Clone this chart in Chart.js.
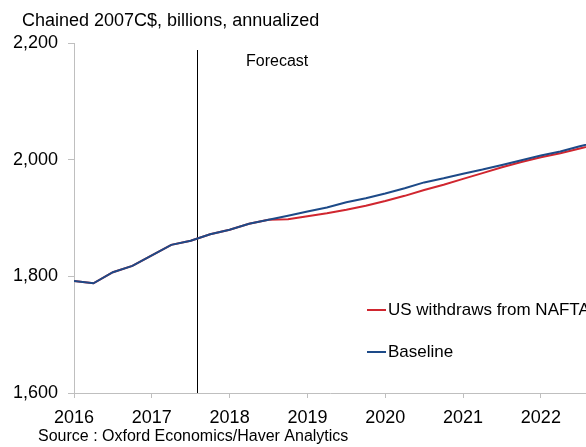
<!DOCTYPE html>
<html>
<head>
<meta charset="utf-8">
<script src="https://cdn.jsdelivr.net/npm/chart.js@4.4.1/dist/chart.umd.min.js"></script>
<style>
  body { margin: 0; background: #fff; }
  #wrap { width: 586px; height: 447px; }
</style>
</head>
<body>
<div id="wrap"><canvas id="mycanvas"></canvas></div>
<script>
// quarterly data, chained 2007C$ billions
var quarters = ['2016Q1','2016Q2','2016Q3','2016Q4','2017Q1','2017Q2','2017Q3','2017Q4',
                '2018Q1','2018Q2','2018Q3','2018Q4','2019Q1','2019Q2','2019Q3','2019Q4',
                '2020Q1','2020Q2','2020Q3','2020Q4','2021Q1','2021Q2','2021Q3','2021Q4',
                '2022Q1','2022Q2','2022Q3','2022Q4'];
var baseline = [1792, 1788, 1807, 1818, 1836, 1854, 1861, 1872,
                1880, 1890, 1897, 1904, 1911, 1918, 1927, 1934,
                1942, 1951, 1961, 1968, 1976, 1983, 1991, 1999,
                2007, 2014, 2023, 2031];
var nafta    = [1792, 1788, 1807, 1818, 1836, 1854, 1861, 1872,
                1880, 1890, 1897, 1898, 1903, 1908, 1914, 1921,
                1929, 1938, 1948, 1957, 1967, 1977, 1987, 1996,
                2004, 2011, 2019, 2027];
var xTicks = [2016, 2017, 2018, 2019, 2020, 2021, 2022];
var yTicks = [1600, 1800, 2000, 2200];
var forecastAt = 2017.575;

var fontFamily = '"Liberation Sans", Arial, sans-serif';
Chart.defaults.font.family = fontFamily;
Chart.defaults.font.size = 18;
Chart.defaults.color = '#000';

function toYear(q) {
  return parseInt(q.substr(0, 4)) + (parseInt(q.substr(5)) - 1) / 4;
}
function points(vals) {
  var out = [];
  for (var i in quarters) out.push({x: toYear(quarters[i]), y: vals[i]});
  return out;
}

var extras = {
  id: 'extras',
  beforeDatasetsDraw: function(chart) {
    var ctx = chart.ctx, xs = chart.scales.x, ys = chart.scales.y;
    var fx = Math.round(xs.getPixelForValue(forecastAt)) + 0.5;
    ctx.save();
    ctx.strokeStyle = '#000';
    ctx.lineWidth = 1;
    ctx.beginPath();
    ctx.moveTo(fx, ys.getPixelForValue(2188));
    ctx.lineTo(fx, ys.getPixelForValue(1600));
    ctx.stroke();
    ctx.restore();
  },
  afterDraw: function(chart) {
    var ctx = chart.ctx;
    ctx.save();
    ctx.fillStyle = '#000';
    ctx.textBaseline = 'alphabetic';
    ctx.font = '18px ' + fontFamily;
    ctx.fillText('Chained 2007C$, billions, annualized', 22, 26);
    ctx.textBaseline = 'middle';
    ctx.font = '16px ' + fontFamily;
    ctx.fillText('Forecast', 246, 62);
    ctx.fillText('Source : Oxford Economics/Haver Analytics', 38, 437);

    // legend
    var ds = chart.data.datasets;
    var rows = [{d: ds[0], y: 310}, {d: ds[1], y: 352}];
    ctx.font = '17px ' + fontFamily;
    rows.forEach(function(r) {
      ctx.strokeStyle = r.d.borderColor;
      ctx.lineWidth = 2;
      ctx.beginPath();
      ctx.moveTo(367, r.y);
      ctx.lineTo(386, r.y);
      ctx.stroke();
      ctx.fillText(r.d.label, 388, r.y);
    });
    ctx.restore();
  }
};

var ctx = document.getElementById('mycanvas');
var lineChart = new Chart(ctx, {
  type: 'line',
  data: {
    datasets: [
      {
        label: 'US withdraws from NAFTA',
        data: points(nafta),
        borderColor: '#d0262f',
        borderWidth: 2,
        pointRadius: 0,
        tension: 0,
        order: 1
      },
      {
        label: 'Baseline',
        data: points(baseline),
        borderColor: '#1d4a88',
        borderWidth: 2,
        pointRadius: 0,
        tension: 0,
        order: 0
      }
    ]
  },
  options: {
    responsive: true,
    maintainAspectRatio: false,
    animation: false,
    events: [],
    layout: { padding: { top: 43, right: 0, bottom: 19, left: 0 } },
    plugins: { legend: { display: false }, title: { display: false }, tooltip: { enabled: false } },
    scales: {
      x: {
        type: 'linear',
        min: 2016,
        max: 2022.58,
        afterBuildTicks: function(axis) { axis.ticks = xTicks.map(function(v) { return {value: v}; }); },
        afterFit: function(axis) { axis.height = 35; },
        ticks: { autoSkip: false, maxRotation: 0, padding: 9, callback: function(v) { return String(v); } },
        grid: { drawOnChartArea: false, drawTicks: true, tickLength: 5, color: '#bfbfbf' },
        border: { color: '#bfbfbf', width: 1 }
      },
      y: {
        min: 1600,
        max: 2200,
        afterBuildTicks: function(axis) { axis.ticks = yTicks.map(function(v) { return {value: v}; }); },
        afterFit: function(axis) { axis.width = 74; },
        ticks: { padding: 10, callback: function(v) { return v.toLocaleString('en-US'); } },
        grid: { drawOnChartArea: false, drawTicks: true, tickLength: 6, color: '#bfbfbf' },
        border: { color: '#bfbfbf', width: 1 }
      }
    }
  },
  plugins: [extras]
});
</script>
</body>
</html>
